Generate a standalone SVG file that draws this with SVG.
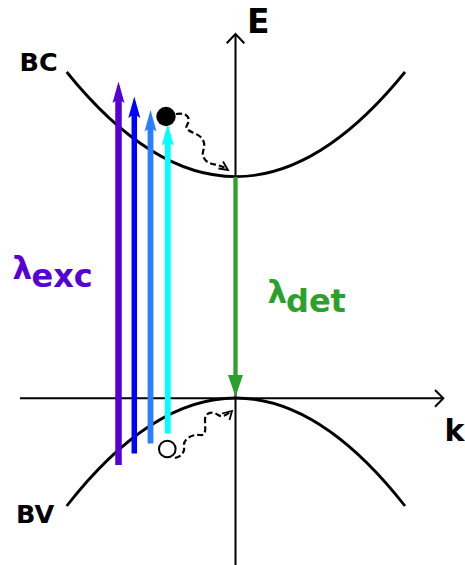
<svg xmlns="http://www.w3.org/2000/svg" width="465" height="565" viewBox="0 0 465 565">
<style>
.lbl{font-family:"DejaVu Sans",sans-serif;font-weight:bold;fill:#000}
.band{fill:none;stroke:#000;stroke-width:2.8}
.axis{fill:none;stroke:#000;stroke-width:2}
.wave{fill:none;stroke:#000;stroke-width:2.2;stroke-dasharray:6 3}
.head{fill:none;stroke:#000;stroke-width:1.8}
</style>
<rect width="465" height="565" fill="#fff"/>
<g id="axes">
<path class="axis" d="M235.5,565 V34"/>
<path class="axis" d="M226.7,43.3 L235.5,34 L244.3,43.3"/>
<path class="axis" d="M20,398.3 H442.5"/>
<path class="axis" d="M435,390 L443.3,398.3 L435,406.7"/>
</g>
<g id="bands">
<path id="BC-band" class="band" d="M66.7,72 Q235.5,281.2 405,72"/>
<path id="BV-band" class="band" d="M66.7,506 Q235.5,290 405,506"/>
</g>
<g id="labels">
<text class="lbl" x="247" y="33.3" font-size="33">E</text>
<text class="lbl" x="444.5" y="441" font-size="30">k</text>
<text class="lbl" x="19.5" y="71" font-size="25.5">BC</text>
<text class="lbl" x="16" y="523" font-size="25.5">BV</text>
<text class="lbl" x="12.5" y="278.5" font-size="31" style="fill:#5500d4">λ</text>
<text class="lbl" x="31.5" y="287" font-size="32" style="fill:#5500d4">exc</text>
<text class="lbl" x="267.5" y="302.5" font-size="31" style="fill:#2ca02c">λ</text>
<text class="lbl" x="286" y="312" font-size="32" style="fill:#2ca02c">det</text>
</g>
<g id="connectors">
<g id="exc-purple">
<line x1="118.5" y1="465" x2="118.5" y2="98" stroke="#5500d4" stroke-width="6.5"/>
<polygon points="118.5,81.5 124.5,103 118.5,99 112.5,103" fill="#5500d4"/>
</g>
<g id="exc-blue">
<line x1="134.3" y1="453.5" x2="134.3" y2="112" stroke="#0000ff" stroke-width="5.5"/>
<polygon points="134.3,96.5 140.3,118 134.3,114 128.3,118" fill="#0000ff"/>
</g>
<g id="exc-lightblue">
<line x1="150.5" y1="443.5" x2="150.5" y2="126" stroke="#2a7fff" stroke-width="5.8"/>
<polygon points="150.5,110 156.5,131.5 150.5,127.5 144.5,131.5" fill="#2a7fff"/>
</g>
<g id="exc-cyan">
<line x1="167.8" y1="433.5" x2="167.8" y2="140" stroke="#00ffff" stroke-width="5.8"/>
<polygon points="167.8,124 173.8,145.5 167.8,141.5 161.8,145.5" fill="#00ffff"/>
</g>
<g id="det-green">
<line x1="235.5" y1="177" x2="235.5" y2="378" stroke="#2ca02c" stroke-width="4.3"/>
<polygon points="228,375 243,375 235.5,396.8" fill="#2ca02c"/>
</g>
<g id="relax-electron">
<path class="wave" d="M176,114 C188,112 191,119 187,125 C183,132 199,132 203,140 C207,148 200,152 204,158 C208,166 218,163 227,169"/>
<path class="head" d="M223,161.5 L228,170 L218.5,168.5"/>
</g>
<g id="relax-hole">
<path class="wave" d="M175,458 C183,456 185,451 184,446 C183,439 192,434 200,435 C207,436 205,428 205,420 C205,412 213,411 218,415 C223,418 227,414 231,411.5"/>
<path class="head" d="M222,413.5 L232,411 L229.5,420"/>
</g>
</g>
<g id="electron">
<circle cx="166" cy="116.5" r="9.7" fill="#000"/>
</g>
<g id="hole">
<circle cx="167.3" cy="449" r="8.3" fill="#fff" stroke="#000" stroke-width="2"/>
</g>
</svg>
